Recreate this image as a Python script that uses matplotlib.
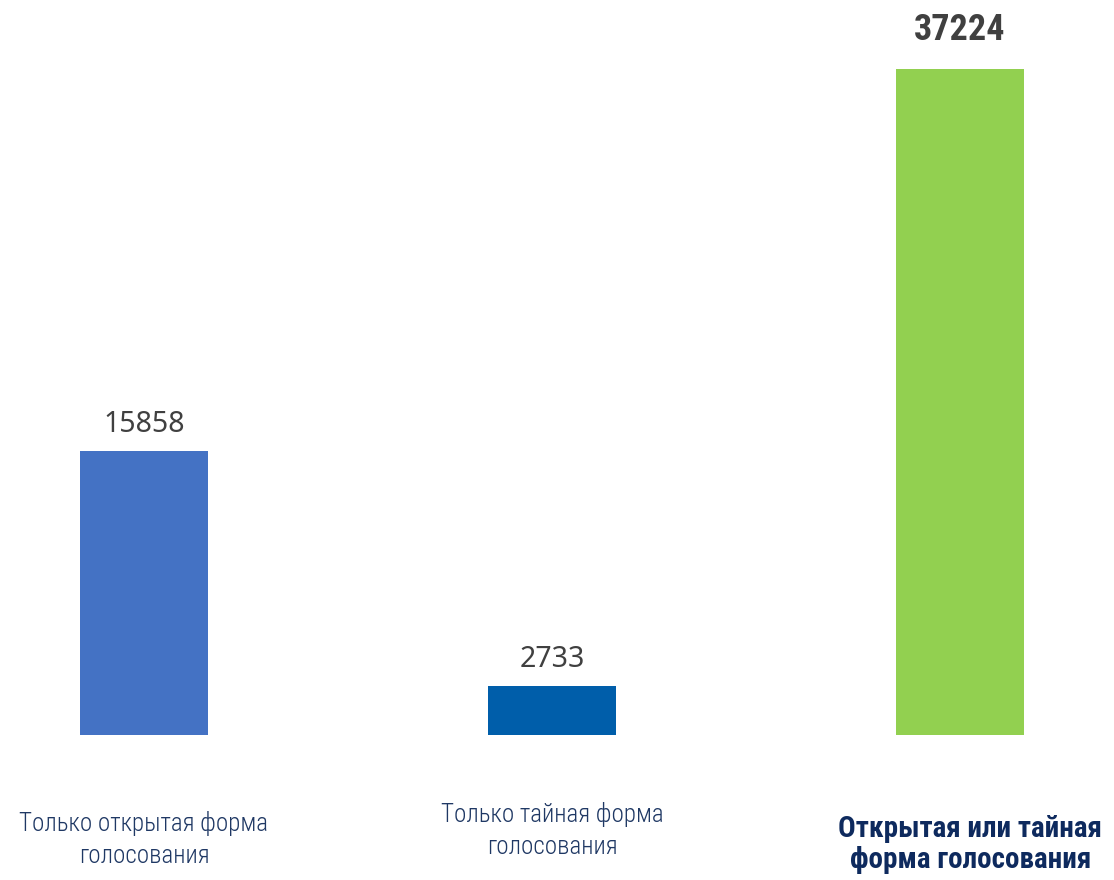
import matplotlib
matplotlib.use("Agg")
import matplotlib.pyplot as plt
from matplotlib import font_manager as fm

categories = ["Только открытая форма\nголосования",
              "Только тайная форма\nголосования",
              "Открытая или тайная\nформа голосования"]
values = [15858, 2733, 37224]
colors = ["#4472C4", "#005EAA", "#92D050"]

names = {f.name for f in fm.fontManager.ttflist}
cond = next((n for n in ["Roboto Condensed", "DejaVu Sans Condensed",
                         "Liberation Sans Narrow", "Roboto"] if n in names), "DejaVu Sans")

fig = plt.figure(figsize=(11.14, 8.8), dpi=100)
ax = fig.add_axes([0, 0, 1, 1])
x = list(range(len(values)))
ax.bar(x, values, width=0.314, color=colors)
ax.set_xlim(-0.3529, 2.3775)
ax.set_ylim(-8104, 41080)
ax.axis("off")

# value labels
for i, v in enumerate(values[:2]):
    ax.annotate(str(v), (i, v), xytext=(0, 9), textcoords="offset points",
                ha="center", va="bottom", fontsize=20.5, color="#404040",
                family="Noto Sans")
ax.annotate(str(values[2]), (2, values[2]), xytext=(0, 15), textcoords="offset points",
            ha="center", va="bottom", fontsize=26, color="#404040",
            family=cond, fontweight="bold")

# category labels
tr = ax.get_xaxis_transform()
ax.text(0, 0.0455, categories[0], transform=tr,
        ha="center", va="center", fontsize=18, color="#1F3864", family=cond,
        fontweight="light", linespacing=1.42)
ax.text(1.0, 0.0568, categories[1], transform=tr,
        ha="center", va="center", fontsize=18, color="#1F3864", family=cond,
        fontweight="light", linespacing=1.42)
ax.text(2.025, 0.0403, categories[2], transform=tr,
        ha="center", va="center", fontsize=21, color="#0E2A5E", family=cond,
        fontweight="bold", linespacing=1.12)

fig.savefig("out.png", dpi=100)
